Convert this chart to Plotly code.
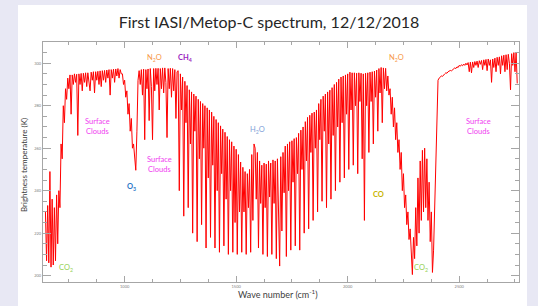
import plotly.graph_objects as go

# ---------------- data ----------------
STEP = 5  # cm-1 sampling of the values below

co2_15um_start = 645
co2_15um_bt = [230, 207, 233, 206, 249, 204, 236, 205, 232, 207, 238, 215, 240, 232, 262, 255,
               280, 272, 288, 283, 293, 288]

window_start = 755
window_bt = [294.5, 276, 294.5, 290, 295, 291, 294.8, 266, 295, 290, 295.2, 287, 295.3, 291,
             295.5, 289, 295.5, 291, 287, 295.8, 292, 296, 286, 296, 292, 296.2, 290, 296.4,
             289, 296.5, 292, 296.6, 291, 296.8, 293, 297, 285, 297, 293, 297.2, 291, 297.3,
             294, 297.5, 293, 297, 295]

ozone_start = 990
ozone_bt = [295, 290, 292, 284, 287, 276, 281, 268, 274, 260, 262, 256, 249.6, 268, 292]

window2_start = 1065
window2_bt = [296.5, 290, 297, 285, 297.2, 264, 297, 288, 297.3, 273, 297.5, 289, 264, 297.5,
              287, 297.6, 290, 297.6, 278, 297.5, 288, 297.8, 286, 297.8, 291, 265, 297.5, 288,
              297.6, 284, 297.5, 287, 297, 274, 296]

ch4_h2o_start = 1240
ch4_h2o_bt = [296.5, 240, 295, 278, 293.5, 228, 291.5, 272, 289.5, 232, 287.5, 262, 286.5, 220,
              285.5, 268, 284.5, 216, 283, 255, 282, 224, 281, 260, 280, 213, 279, 246, 278,
              218, 277, 252, 275, 213, 273.5, 240, 272, 211, 270.5, 248, 269, 214, 267.5, 236,
              265.5, 210, 264, 240, 263, 211, 261, 225, 259.5, 210, 257, 230]

h2o_start = 1520
h2o_bt = [253.5, 211, 251, 230, 249, 210, 248, 232, 250, 211, 257, 226, 262, 260, 236, 258,
          213, 254, 234, 252, 210, 253, 232, 252.5, 209, 254, 237, 253, 210, 254.5, 234, 254,
          208, 255, 230, 204.5, 256, 221, 258, 239, 261, 209, 262, 240, 263, 212, 263.5, 244,
          264.5, 214, 265, 248, 267, 212, 268.5, 250, 270, 220, 272.5, 254, 274.5, 222, 275.5,
          258, 276.5, 226, 277, 260, 278, 230, 281, 264, 283, 235, 284.5, 268, 285.5]

co_start = 1905
co_bt = [232, 286.5, 262, 287.3, 236, 288.5, 266, 290, 240, 291, 270, 292.5, 244, 293.5, 272,
         294, 246, 294.5, 276, 295, 250, 295.8, 278, 295.5, 252, 295.5, 280, 295.3, 248, 295.5,
         282, 295.3, 255, 295, 226, 295.3, 280, 295.5, 258, 295.8, 282, 296, 262, 296.3, 284,
         296.8, 268, 297.5, 286, 298, 272, 297.8, 288, 297.6, 287, 294]

co2_43um_start = 2185
co2_43um_bt = [285, 288, 276, 284, 270, 279, 264, 272, 258, 264, 250, 258, 240, 248, 232, 238,
               224, 230, 217, 222, 210, 200.5, 218, 208, 232, 214, 246, 220, 254, 226, 259, 230,
               260, 232, 255, 226, 244, 216, 230, 201.5, 212, 232, 262, 284, 292]

swir_start = 2410
swir_bt = [293, 293.6, 294, 293.8, 294.6, 295, 295.5, 295.3, 296, 296.2, 296.6, 296.4, 297,
           297.2, 297.8, 297.5, 298.3, 298, 299, 298.6, 299.3, 298.8, 299.6, 299, 300, 299.2,
           300.3, 296, 300.5, 295.5, 300.6, 298, 300.8, 299, 301, 298, 301.2, 299.5, 301.3,
           297, 301.6, 299, 301.8, 296.5, 302, 299, 301.6, 291, 302, 298, 302.4, 296, 302.8,
           299, 303, 295, 303.5, 299, 303.8, 296, 304, 297, 304.2, 300, 287.5, 304.5, 299,
           305, 296, 305.2, 290.5]

segments = [(co2_15um_start, co2_15um_bt), (window_start, window_bt), (ozone_start, ozone_bt),
            (window2_start, window2_bt), (ch4_h2o_start, ch4_h2o_bt), (h2o_start, h2o_bt),
            (co_start, co_bt), (co2_43um_start, co2_43um_bt), (swir_start, swir_bt)]

wavenumber, brightness = [], []
for start, vals in segments:
    for i, v in enumerate(vals):
        wavenumber.append(start + STEP * i)
        brightness.append(v)

# gas / cloud labels: (text, wavenumber, BT, colour, bold)
labels = [
    ("N<sub>2</sub>O", 1135, 302.4, "#f79646", False),
    ("CH<sub>4</sub>", 1269, 302.4, "#9a1fc0", True),
    ("Surface<br>Clouds", 879, 270.0, "#f03cf0", False),
    ("Surface<br>Clouds", 1157, 252.5, "#f03cf0", False),
    ("O<sub>3</sub>", 1031, 241.6, "#2a78c8", True),
    ("H<sub>2</sub>O", 1597, 268.5, "#7f9fd8", False),
    ("N<sub>2</sub>O", 2217, 302.4, "#f79646", False),
    ("CO", 2136, 238.0, "#c8b400", True),
    ("Surface<br>Clouds", 2585, 270.0, "#f03cf0", False),
    ("CO<sub>2</sub>", 735, 203.5, "#92d050", False),
    ("CO<sub>2</sub>", 2329, 203.5, "#92d050", False),
]

# ---------------- figure ----------------
W, H = 538, 306
ML, MR, MT, MB = 43, 19, 42, 24

fig = go.Figure()
fig.add_trace(go.Scatter(x=wavenumber, y=brightness, mode="lines",
                         line=dict(color="#ff0000", width=1.0), hoverinfo="skip"))

pw = W - ML - MR
ph = H - MT - MB

fig.add_shape(type="rect", xref="paper", yref="paper",
              x0=(18 - ML) / pw, x1=(527 - ML) / pw,
              y0=-(H - MT - ph) / ph - 0.01, y1=(MT + ph - 5) / ph,
              fillcolor="white", line=dict(width=0), layer="below")

for text, x, y, col, bold in labels:
    t = f"<b>{text}</b>" if bold else text
    fig.add_annotation(x=x, y=y, xref="x", yref="y", text=t, showarrow=False,
                       xanchor="center", yanchor="middle",
                       font=dict(family="Lato", size=7.5, color=col), align="center")

fig.add_annotation(xref="paper", yref="paper", x=(278 - ML) / pw, y=-(294 - MT - ph) / ph,
                   xanchor="center", yanchor="middle",
                   text="Wave number (cm<sup>-1</sup>)", showarrow=False,
                   font=dict(family="Lato", size=9, color="#404040"))
fig.add_annotation(xref="paper", yref="paper", x=(24 - ML) / pw, y=(MT + ph - 165) / ph,
                   xanchor="center", yanchor="middle",
                   text="Brightness temperature (K)", showarrow=False, textangle=-90,
                   font=dict(family="Lato", size=8, color="#404040"))

axis_common = dict(showline=True, linecolor="#a6a6a6", linewidth=1, mirror="allticks",
                   ticks="inside", tickcolor="#a6a6a6", showgrid=False, zeroline=False,
                   tickfont=dict(family="Lato", size=4, color="#808080"))

fig.update_xaxes(range=[634, 2768], dtick=500, tick0=0, ticklen=6,
                 minor=dict(dtick=125, tick0=0, ticks="inside", ticklen=3, tickcolor="#a6a6a6"),
                 **axis_common)
fig.update_yaxes(range=[197, 310], dtick=20, tick0=0, ticklen=8,
                 minor=dict(dtick=5, tick0=0, ticks="inside", ticklen=4, tickcolor="#a6a6a6"),
                 **axis_common)

fig.update_layout(
    width=W, height=H, autosize=False,
    margin=dict(l=ML, r=MR, t=MT, b=MB),
    paper_bgcolor="#e8e8f4", plot_bgcolor="white",
    showlegend=False,
    title=dict(text="First IASI/Metop-C spectrum, 12/12/2018", x=0.5, xanchor="center",
               y=1 - 22 / H, yanchor="middle",
               font=dict(family="Lato", size=16, color="#262626")),
)

fig.write_html("out.html", config={"displayModeBar": False},
               post_script="document.body.style.margin='0';")
